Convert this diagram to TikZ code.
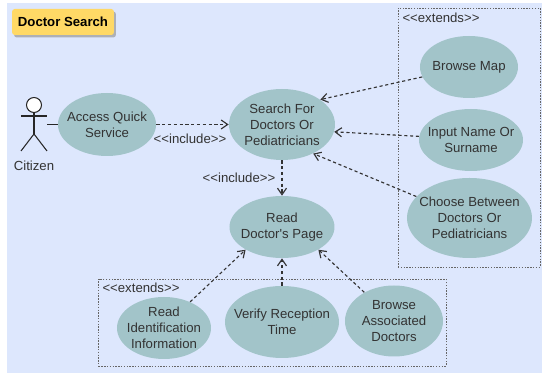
\documentclass[tikz,border=0pt]{standalone}
\usepackage{fontspec}
\setmainfont{Liberation Sans}
\usetikzlibrary{shapes.geometric,arrows.meta,shadows}
\definecolor{pagebg}{HTML}{DDE7FD}
\definecolor{usecase}{HTML}{A2C4C9}
\definecolor{titlefill}{HTML}{FFD966}
\definecolor{inktext}{HTML}{333333}
\tikzset{
  uc/.style={ellipse,fill=usecase,inner sep=-3mm,align=center,text=inktext},
  lbl/.style={inner sep=0pt,text=inktext},
  dep/.style={draw=black!80,line width=0.65pt,dash pattern=on 1.8pt off 1.5pt,-{Straight Barb[length=1.3mm,width=1.8mm]}},
  groupbox/.style={rectangle,draw=black!60,line width=0.5pt,dash pattern=on 0.8pt off 0.8pt,inner sep=0pt},
  stick/.style={draw=black!85,line width=0.6pt}
}
\begin{document}
\begin{tikzpicture}[font=\fontsize{7.5pt}{9.07pt}\selectfont]
\useasboundingbox (0,0) rectangle (10.84,7.48);
\fill[pagebg] (0.13,0.02) rectangle (10.84,7.42);

\node[rectangle,rounded corners=1.5pt,fill=titlefill,minimum width=2cm,minimum height=0.52cm,
  drop shadow={shadow xshift=0.04cm,shadow yshift=-0.05cm,fill=black!40,opacity=0.7}] (title) at (1.26,7.04) {\textbf{Doctor Search}};

\node[groupbox,minimum width=2.84cm,minimum height=5.18cm] (extendsright) at (9.38,4.73) {};
\node[groupbox,minimum width=6.95cm,minimum height=1.74cm] (extendsbottom) at (5.445,1.03) {};
\node[lbl] (extendsrightlbl) at (8.82,7.12) {<{}<extends>{}>};
\node[lbl] (extendsbottomlbl) at (2.82,1.72) {<{}<extends>{}>};

\node[uc,minimum width=1.96cm,minimum height=1.26cm] (access) at (2.14,4.99) {Access Quick\\Service};
\node[uc,minimum width=2.12cm,minimum height=1.42cm] (search) at (5.64,4.99) {Search For\\Doctors Or\\Pediatricians};
\node[uc,minimum width=1.96cm,minimum height=1.24cm] (browsemap) at (9.38,6.14) {Browse Map};
\node[uc,minimum width=2.08cm,minimum height=1.24cm] (inputname) at (9.42,4.68) {Input Name Or\\Surname};
\node[uc,minimum width=2.5cm,minimum height=1.6cm] (choose) at (9.39,3.12) {Choose Between\\Doctors Or\\Pediatricians};
\node[uc,minimum width=2.1cm,minimum height=1.24cm] (readpage) at (5.64,2.94) {Read\\Doctor\textquotesingle s Page};
\node[uc,minimum width=1.88cm,minimum height=1.24cm] (readid) at (3.28,0.92) {Read\\Identification\\Information};
\node[uc,minimum width=2.28cm,minimum height=1.44cm] (verify) at (5.64,1.04) {Verify Reception\\Time};
\node[uc,minimum width=1.96cm,minimum height=1.42cm] (associated) at (7.88,1.06) {Browse\\Associated\\Doctors};

\node[circle,draw=black!85,fill=white,line width=0.6pt,minimum size=0.3cm,inner sep=0pt] (head) at (0.68,5.38) {};
\coordinate (hip) at (0.68,4.8);
\coordinate (handl) at (0.42,5.16);
\coordinate (handr) at (0.94,5.16);
\coordinate (footl) at (0.42,4.46);
\coordinate (footr) at (0.94,4.46);
\coordinate (actor) at (0.94,4.99);
\node[lbl] (citizen) at (0.68,4.17) {Citizen};
\draw[stick] (head) -- (hip);
\draw[stick] (handl) -- (handr);
\draw[stick] (footl) -- (hip) -- (footr);
\draw[stick] (actor) -- (access);

\node[lbl] (includeone) at (3.8,4.71) {<{}<include>{}>};
\node[lbl] (includetwo) at (4.78,3.92) {<{}<include>{}>};

\draw[dep] (access) -- (search);
\draw[dep] (search) -- (readpage);
\draw[dep] (browsemap.192) -- (search.33);
\draw[dep] (inputname.176) -- (search.352);
\draw[dep] (choose.158) -- (search.317);
\draw[dep] (readid.45) -- (readpage.212);
\draw[dep] (verify) -- (readpage);
\draw[dep] (associated.136) -- (readpage.328);
\end{tikzpicture}
\end{document}
